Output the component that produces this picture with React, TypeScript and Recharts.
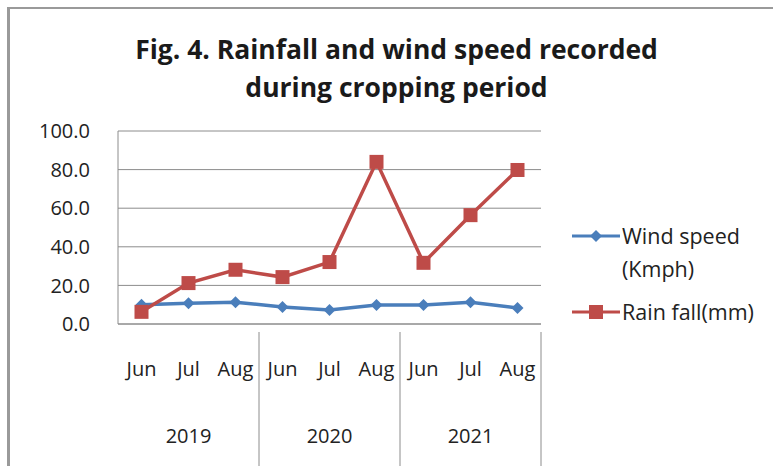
import React from 'react';
import { LineChart, Line, XAxis, YAxis, CartesianGrid } from 'recharts';

const MONTHS = ['Jun', 'Jul', 'Aug', 'Jun', 'Jul', 'Aug', 'Jun', 'Jul', 'Aug'];
const YEARS = ['2019', '2019', '2019', '2020', '2020', '2020', '2021', '2021', '2021'];
const WIND_SPEED = [10.0, 10.8, 11.3, 8.8, 7.2, 9.9, 9.9, 11.3, 8.3];
const RAIN_FALL = [6.3, 21.2, 28.1, 24.3, 32.1, 84.0, 31.7, 56.4, 79.8];
const Y_TICKS = [0, 20, 40, 60, 80, 100];

const data = MONTHS.map((m, i) => ({
  idx: i,
  month: m,
  year: YEARS[i],
  wind: WIND_SPEED[i],
  rain: RAIN_FALL[i],
}));

const W = 773;
const H = 466;
const AXIS_W = 118;
const AXIS_H = 142;
const M = { top: 131, right: 232, bottom: 0, left: 0 };
const STEP = (W - AXIS_W - M.right) / MONTHS.length;
const FONT = 'Open Sans, "Noto Sans", sans-serif';
const GRID = '#8c8c8c';
const BLUE = '#4A7EBB';
const RED = '#BE4B48';

const Diamond = (props: any) => {
  const { cx, cy } = props;
  const r = 6;
  return <path d={`M${cx},${cy - r}L${cx + r},${cy}L${cx},${cy + r}L${cx - r},${cy}Z`} fill={BLUE} />;
};

const Square = (props: any) => {
  const { cx, cy } = props;
  const s = 7;
  return <rect x={cx - s} y={cy - s} width={2 * s} height={2 * s} fill={RED} />;
};

const MonthTick = (props: any) => {
  const { x, y, payload } = props;
  const i = payload.value as number;
  const left = x - STEP / 2;
  return (
    <g>
      <text x={x} y={y + 44} textAnchor="middle" fontFamily={FONT} fontSize={20} fill="#222">
        {MONTHS[i]}
      </text>
      {i % 3 === 1 && (
        <text x={x} y={y + 111} textAnchor="middle" fontFamily={FONT} fontSize={20} fill="#222">
          {YEARS[i]}
        </text>
      )}
      {i % 3 === 0 && i > 0 && <line x1={left} x2={left} y1={y} y2={y + 139} stroke={GRID} />}
      {i === MONTHS.length - 1 && (
        <line x1={x + STEP / 2} x2={x + STEP / 2} y1={y} y2={y + 139} stroke={GRID} />
      )}
    </g>
  );
};

const LegendBox = () => (
  <div
    style={{
      position: 'absolute',
      left: 570,
      top: 219,
      width: 203,
      fontFamily: FONT,
      fontSize: 21.5,
      color: '#222',
      lineHeight: '33px',
    }}
  >
    <div style={{ display: 'flex', alignItems: 'flex-start' }}>
      <svg width={52} height={33} style={{ flex: 'none' }}>
        <line x1={2} x2={50} y1={17} y2={17} stroke={BLUE} strokeWidth={3} />
        <path d="M26,11L32,17L26,23L20,17Z" fill={BLUE} />
      </svg>
      <div style={{ whiteSpace: 'nowrap' }}>
        Wind speed
        <br />
        (Kmph)
      </div>
    </div>
    <div style={{ display: 'flex', alignItems: 'center', marginTop: 10 }}>
      <svg width={52} height={33} style={{ flex: 'none' }}>
        <line x1={2} x2={50} y1={17} y2={17} stroke={RED} strokeWidth={3} />
        <rect x={19} y={10} width={14} height={14} fill={RED} />
      </svg>
      <div style={{ whiteSpace: 'nowrap' }}>Rain fall(mm)</div>
    </div>
  </div>
);

export default function App() {
  return (
    <div style={{ position: 'absolute', left: 0, top: 0, width: W, height: H, background: '#fff', overflow: 'hidden' }}>
      <div
        style={{
          position: 'absolute',
          left: 7,
          top: 7,
          right: 0,
          bottom: 0,
          borderLeft: '3px solid #9a9a9a',
          borderTop: '2px solid #9a9a9a',
        }}
      />
      <div
        style={{
          position: 'absolute',
          left: 0,
          top: 30,
          width: 793,
          textAlign: 'center',
          fontFamily: FONT,
          fontWeight: 700,
          fontSize: 26.5,
          lineHeight: '38px',
          color: '#1a1a1a',
        }}
      >
        Fig. 4. Rainfall and wind speed recorded
        <br />
        during cropping period
      </div>
      <LineChart width={W} height={H} data={data} margin={M} style={{ position: 'absolute', left: 0, top: 0 }}>
        <CartesianGrid vertical={false} stroke={GRID} />
        <XAxis
          dataKey="idx"
          type="category"
          stroke={GRID}
          tickLine={false}
          tick={<MonthTick />}
          interval={0}
          height={AXIS_H}
          padding={{ left: STEP / 2, right: STEP / 2 }}
        />
        <YAxis
          domain={[0, 100]}
          ticks={Y_TICKS}
          interval={0}
          tickFormatter={(v: number) => v.toFixed(1)}
          tick={{ fontFamily: FONT, fontSize: 20, fill: '#222' }}
          stroke={GRID}
          tickLine={false}
          width={AXIS_W}
          tickMargin={22}
        />
        <Line
          dataKey="wind"
          name="Wind speed (Kmph)"
          stroke={BLUE}
          strokeWidth={3.5}
          dot={<Diamond />}
          isAnimationActive={false}
        />
        <Line
          dataKey="rain"
          name="Rain fall(mm)"
          stroke={RED}
          strokeWidth={3.5}
          dot={<Square />}
          isAnimationActive={false}
        />
      </LineChart>
      <LegendBox />
    </div>
  );
}
